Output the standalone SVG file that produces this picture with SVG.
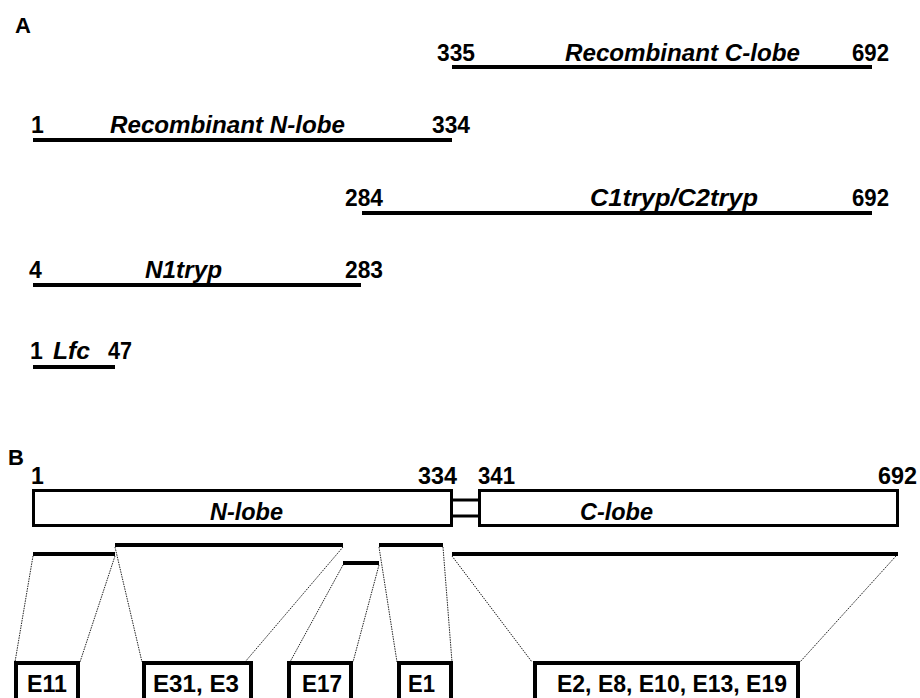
<svg xmlns="http://www.w3.org/2000/svg" width="920" height="698" viewBox="0 0 920 698">
<style>
text{font-family:"Liberation Sans",Arial,sans-serif;font-weight:bold;fill:#000}
.num{font-size:23px}
.lab{font-size:23px;font-style:italic}
.pan{font-size:22px}
.bx{font-size:24px}
.bar{stroke:#000;stroke-width:4;fill:none}
.dot{stroke:#222;stroke-width:1;stroke-dasharray:1.5 1;fill:none}
.lobe{fill:#fff;stroke:#000;stroke-width:3}
.box{fill:#fff;stroke:#000;stroke-width:4}
</style>
<rect width="920" height="698" fill="#fff"/>
<text class="pan" x="15" y="33">A</text>
<g id="recC">
<text class="num" x="437" y="61" textLength="38" lengthAdjust="spacingAndGlyphs">335</text>
<text class="lab" x="565" y="61" textLength="235" lengthAdjust="spacingAndGlyphs">Recombinant C-lobe</text>
<text class="num" x="852" y="61" textLength="37" lengthAdjust="spacingAndGlyphs">692</text>
<line class="bar" x1="452" y1="67" x2="872" y2="67"/>
</g>
<g id="recN">
<text class="num" x="31" y="133">1</text>
<text class="lab" x="110" y="133" textLength="235" lengthAdjust="spacingAndGlyphs">Recombinant N-lobe</text>
<text class="num" x="432" y="133" textLength="38" lengthAdjust="spacingAndGlyphs">334</text>
<line class="bar" x1="33" y1="140" x2="452" y2="140"/>
</g>
<g id="c1tryp">
<text class="num" x="345" y="206" textLength="38" lengthAdjust="spacingAndGlyphs">284</text>
<text class="lab" x="590" y="206" textLength="168" lengthAdjust="spacingAndGlyphs">C1tryp/C2tryp</text>
<text class="num" x="852" y="206" textLength="37" lengthAdjust="spacingAndGlyphs">692</text>
<line class="bar" x1="362" y1="213" x2="872" y2="213"/>
</g>
<g id="n1tryp">
<text class="num" x="29" y="278">4</text>
<text class="lab" x="145" y="278" textLength="77" lengthAdjust="spacingAndGlyphs">N1tryp</text>
<text class="num" x="345" y="278" textLength="38" lengthAdjust="spacingAndGlyphs">283</text>
<line class="bar" x1="33" y1="285" x2="361" y2="285"/>
</g>
<g id="lfc">
<text class="num" x="30" y="359">1</text>
<text class="lab" x="53" y="359" textLength="37" lengthAdjust="spacingAndGlyphs">Lfc</text>
<text class="num" x="108" y="359" textLength="24" lengthAdjust="spacingAndGlyphs">47</text>
<line class="bar" x1="33" y1="367" x2="115" y2="367"/>
</g>
<text class="pan" x="8" y="465">B</text>
<g id="lobes">
<text class="num" x="31" y="484">1</text>
<text class="num" x="418" y="484" textLength="39" lengthAdjust="spacingAndGlyphs">334</text>
<text class="num" x="478" y="484" textLength="37" lengthAdjust="spacingAndGlyphs">341</text>
<text class="num" x="878" y="484" textLength="39" lengthAdjust="spacingAndGlyphs">692</text>
<rect class="lobe" x="33.5" y="490.5" width="418" height="35"/>
<rect class="lobe" x="479.5" y="490.5" width="418" height="35"/>
<line x1="453" y1="500" x2="478" y2="500" stroke="#000" stroke-width="3"/>
<line x1="453" y1="516" x2="478" y2="516" stroke="#000" stroke-width="3"/>
<text class="lab" x="210" y="520" textLength="73" lengthAdjust="spacingAndGlyphs">N-lobe</text>
<text class="lab" x="580" y="520" textLength="73" lengthAdjust="spacingAndGlyphs">C-lobe</text>
</g>
<g id="connectors">
<line class="bar" x1="33" y1="554" x2="115" y2="554"/>
<line class="bar" x1="115" y1="545" x2="343" y2="545"/>
<line class="bar" x1="343" y1="563" x2="379" y2="563"/>
<line class="bar" x1="379" y1="545" x2="443" y2="545"/>
<line class="bar" x1="452" y1="554" x2="898" y2="554"/>
<line class="dot" x1="33" y1="556" x2="15" y2="662"/>
<line class="dot" x1="115" y1="556" x2="80" y2="662"/>
<line class="dot" x1="115" y1="547" x2="142" y2="662"/>
<line class="dot" x1="343" y1="547" x2="245" y2="662"/>
<line class="dot" x1="343" y1="565" x2="290" y2="662"/>
<line class="dot" x1="379" y1="565" x2="353" y2="662"/>
<line class="dot" x1="379" y1="547" x2="397" y2="662"/>
<line class="dot" x1="443" y1="547" x2="452" y2="662"/>
<line class="dot" x1="452" y1="556" x2="532" y2="662"/>
<line class="dot" x1="896" y1="556" x2="800" y2="662"/>
</g>
<g id="E11"><rect class="box" x="16" y="663" width="62" height="60"/><text class="bx" x="27" y="692" textLength="40" lengthAdjust="spacingAndGlyphs">E11</text></g>
<g id="E31"><rect class="box" x="144" y="663" width="107" height="60"/><text class="bx" x="153" y="692" textLength="86" lengthAdjust="spacingAndGlyphs">E31, E3</text></g>
<g id="E17"><rect class="box" x="289" y="663" width="62" height="60"/><text class="bx" x="302" y="692" textLength="40" lengthAdjust="spacingAndGlyphs">E17</text></g>
<g id="E1"><rect class="box" x="399" y="663" width="52" height="60"/><text class="bx" x="408" y="692" textLength="27" lengthAdjust="spacingAndGlyphs">E1</text></g>
<g id="E2"><rect class="box" x="535" y="663" width="263" height="60"/><text class="bx" x="557" y="692" textLength="230" lengthAdjust="spacingAndGlyphs">E2, E8, E10, E13, E19</text></g>
</svg>
